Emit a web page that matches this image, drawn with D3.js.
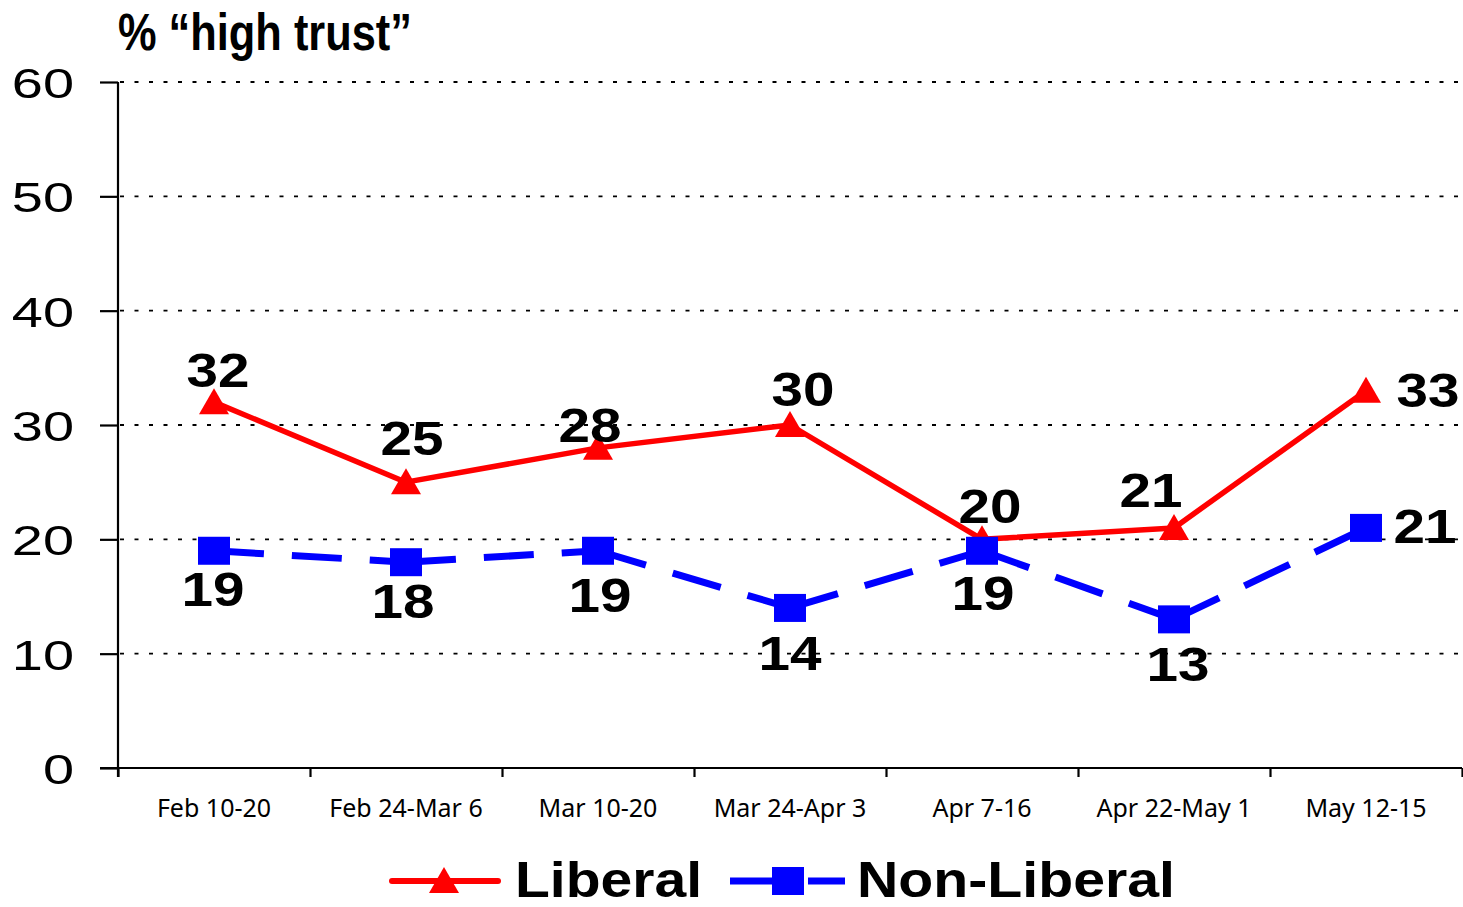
<!DOCTYPE html>
<html>
<head>
<meta charset="utf-8">
<script src="https://cdn.jsdelivr.net/npm/d3@7"></script>
<style>
  html, body { margin: 0; padding: 0; background: #fff; }
  svg { display: block; }
</style>
</head>
<body>
<svg id="chart" width="1463" height="907"></svg>
<script>
// ---- data ----
const categories = ["Feb 10-20", "Feb 24-Mar 6", "Mar 10-20", "Mar 24-Apr 3", "Apr 7-16", "Apr 22-May 1", "May 12-15"];
const liberal = [32, 25, 28, 30, 20, 21, 33];
const nonLiberal = [19, 18, 19, 14, 19, 13, 21];
const yTicks = [0, 10, 20, 30, 40, 50, 60];
const seriesNames = ["Liberal", "Non-Liberal"];
const titleText = "% \u201chigh trust\u201d";

// ---- label placement nudges (layout, px) ----
const libNudge = [[4,-15],[6,-27],[-8,-6],[13,-19],[8,-16],[-23,-21],[62,16]];
const nonNudge = [[-1,55],[-3,56],[2,61],[0,62],[1,59],[4,62],[59,15]];

const svg = d3.select("#chart");
const L = 118, R = 1462, T = 82, B = 768;

const x = d3.scaleBand().domain(categories).range([L, R]).padding(0);
const xi = d3.scaleLinear().domain([0, categories.length]).range([L, R]);
const y = d3.scaleLinear().domain([0, 60]).range([B, T]);
const cx = c => x(c) + x.bandwidth() / 2;

// gridlines
svg.append("g").selectAll("line").data(yTicks.filter(v => v > 0)).join("line")
  .attr("x1", L + 2).attr("x2", R).attr("y1", d => y(d)).attr("y2", d => y(d))
  .attr("stroke", "#000").attr("stroke-width", 1.8).attr("stroke-dasharray", "4,10.5");

// y axis
const yAxis = svg.append("g").attr("transform", `translate(${L},0)`)
  .call(d3.axisLeft(y).tickValues(yTicks).tickSize(18).tickSizeOuter(0).tickFormat(d3.format("d")));
yAxis.select(".domain").attr("stroke", "#000").attr("stroke-width", 2.2).attr("d", `M0,${T}V${B + 9}`);
yAxis.selectAll(".tick line").attr("stroke", "#000").attr("stroke-width", 2.2);
yAxis.selectAll(".tick text")
  .attr("x", 0).attr("dy", "0.36em")
  .attr("transform", "translate(-44,0) scale(1.3,1)")
  .attr("font-family", "'Liberation Sans', Arial, sans-serif").attr("font-size", 43).attr("fill", "#000");

// x axis (tick marks at category boundaries)
const xAxis = svg.append("g").attr("transform", `translate(0,${B})`)
  .call(d3.axisBottom(xi).tickValues(d3.range(0, categories.length + 1)).tickSize(9).tickSizeOuter(0).tickFormat(""));
xAxis.select(".domain").attr("stroke", "#000").attr("stroke-width", 2.2).attr("d", `M${L - 18},0H${R}`);
xAxis.selectAll(".tick line").attr("stroke", "#000").attr("stroke-width", 2.2);

// category labels
svg.append("g").selectAll("text").data(categories).join("text")
  .attr("x", d => cx(d)).attr("y", 817)
  .attr("text-anchor", "middle")
  .attr("font-family", "'Noto Sans', 'Open Sans', sans-serif").attr("font-size", 25).attr("fill", "#000")
  .text(d => d);

// title
svg.append("text").attr("x", 118).attr("y", 50)
  .attr("font-family", "'Liberation Sans Narrow', 'Arial Narrow', 'Liberation Sans', sans-serif")
  .attr("font-size", 52).attr("font-weight", "bold").attr("fill", "#000")
  .attr("textLength", 294).attr("lengthAdjust", "spacingAndGlyphs")
  .text(titleText);

// lines
const red = "#ff0000", blue = "#0000ff";
const segs = arr => d3.pairs(arr.map((v, i) => [cx(categories[i]), y(v)]));

svg.append("g").selectAll("line").data(segs(liberal)).join("line")
  .attr("x1", d => d[0][0]).attr("y1", d => d[0][1]).attr("x2", d => d[1][0]).attr("y2", d => d[1][1])
  .attr("stroke", red).attr("stroke-width", 5.5).attr("stroke-linecap", "round");

svg.append("g").selectAll("line").data(segs(nonLiberal)).join("line")
  .attr("x1", d => d[0][0]).attr("y1", d => d[0][1]).attr("x2", d => d[1][0]).attr("y2", d => d[1][1])
  .attr("stroke", blue).attr("stroke-width", 7).attr("stroke-dasharray", "50,28");

// markers
function triPath(cxp, cyp) { // 30 wide, 26 tall triangle
  return `M${cxp},${cyp - 14}L${cxp + 15},${cyp + 12}L${cxp - 15},${cyp + 12}Z`;
}
svg.append("g").selectAll("path").data(liberal).join("path")
  .attr("d", (d, i) => triPath(cx(categories[i]), y(d))).attr("fill", red);

svg.append("g").selectAll("rect").data(nonLiberal).join("rect")
  .attr("x", (d, i) => cx(categories[i]) - 16).attr("y", d => y(d) - 14)
  .attr("width", 32).attr("height", 28).attr("fill", blue);

// data labels
function labels(arr, nudge) {
  svg.append("g").selectAll("text").data(arr).join("text")
    .attr("transform", (d, i) => `translate(${cx(categories[i]) + nudge[i][0]},${y(d) + nudge[i][1]}) scale(1.18,1)`)
    .attr("text-anchor", "middle")
    .attr("font-family", "'Liberation Sans', Arial, sans-serif").attr("font-weight", "bold")
    .attr("font-size", 48).attr("fill", "#000")
    .text(d => d);
}
labels(liberal, libNudge);
labels(nonLiberal, nonNudge);

// legend
const lg = svg.append("g");
const ly = 881;
lg.append("line").attr("x1", 392).attr("x2", 498).attr("y1", ly).attr("y2", ly)
  .attr("stroke", red).attr("stroke-width", 6).attr("stroke-linecap", "round");
lg.append("path").attr("d", triPath(444, ly)).attr("fill", red);
lg.append("text").attr("x", 515).attr("y", 897)
  .attr("font-family", "'Liberation Sans', Arial, sans-serif").attr("font-weight", "bold")
  .attr("font-size", 50).attr("textLength", 187).attr("lengthAdjust", "spacingAndGlyphs")
  .attr("fill", "#000").text(seriesNames[0]);
lg.append("line").attr("x1", 730).attr("x2", 845).attr("y1", ly).attr("y2", ly)
  .attr("stroke", blue).attr("stroke-width", 7).attr("stroke-dasharray", "50,28");
lg.append("rect").attr("x", 788 - 16).attr("y", ly - 14).attr("width", 32).attr("height", 28).attr("fill", blue);
lg.append("text").attr("x", 857).attr("y", 897)
  .attr("font-family", "'Liberation Sans', Arial, sans-serif").attr("font-weight", "bold")
  .attr("font-size", 50).attr("textLength", 318).attr("lengthAdjust", "spacingAndGlyphs")
  .attr("fill", "#000").text(seriesNames[1]);
</script>
</body>
</html>
